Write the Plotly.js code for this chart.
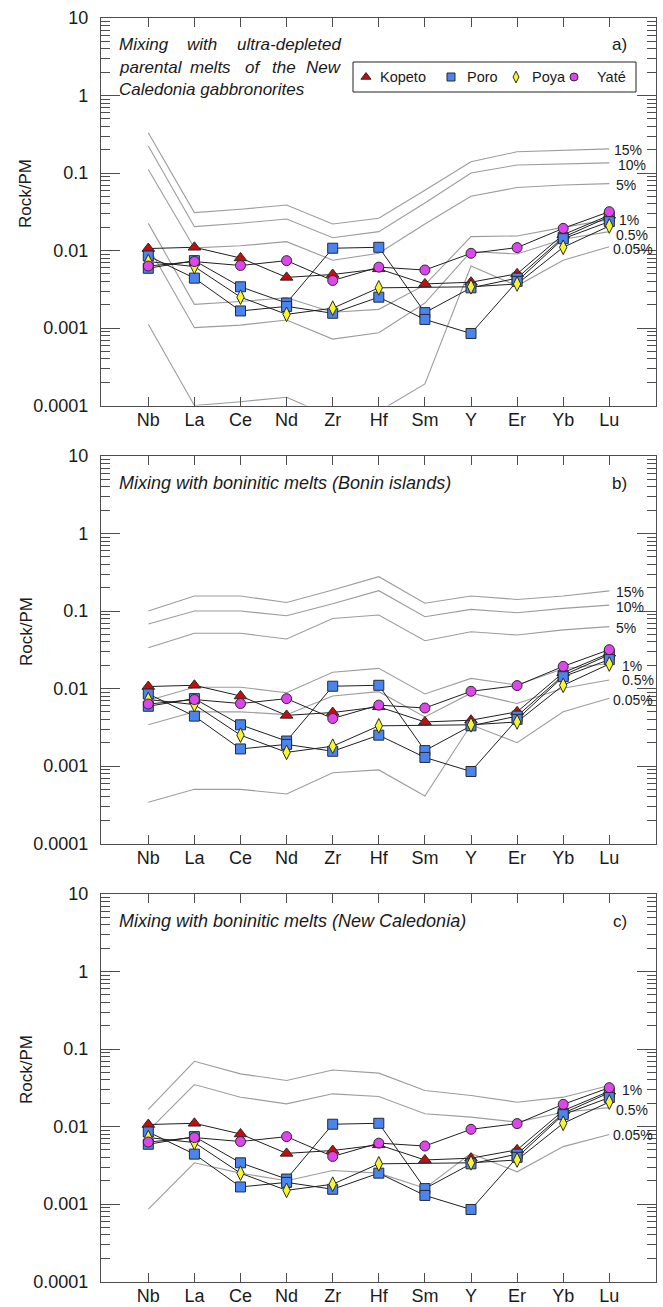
<!DOCTYPE html>
<html><head><meta charset="utf-8">
<script src="https://cdn.plot.ly/plotly-3.0.1.min.js"></script>
<style>html,body{margin:0;padding:0;background:#fff;}#chart{width:663px;height:1307px;}</style>
</head><body><div id="chart"></div>
<script>
// ---------- DATA ----------
const elements = ['Nb','La','Ce','Nd','Zr','Hf','Sm','Y','Er','Yb','Lu'];

// samples (Rock / Primitive Mantle)
const kopeto = [0.0106, 0.0110, 0.0080, 0.0045, 0.0049, 0.0058, 0.0037, 0.0039, 0.0050, 0.0160, 0.0285];
const poro1  = [0.0059, 0.0074, 0.0034, 0.0021, 0.0107, 0.0110, 0.00158, 0.0033, 0.0044, 0.0148, 0.0273];
const poro2  = [0.0085, 0.0044, 0.00166, 0.0019, 0.00155, 0.0025, 0.00129, 0.00085, 0.0040, 0.0142, 0.0236];
const poya   = [0.0072, 0.0062, 0.0025, 0.00150, 0.00180, 0.0033, null, 0.0034, 0.0037, 0.0110, 0.0207];
const yate   = [0.0063, 0.0072, 0.0064, 0.0074, 0.0041, 0.0061, 0.0056, 0.0092, 0.0109, 0.0193, 0.0317];

// a) mixing with ultra-depleted parental melts of the New Caledonia gabbronorites
const udLabels = ['15%','10%','5%','1%','0.5%','0.05%'];
const ud15  = [0.331, 0.0308, 0.0340, 0.0386, 0.0220, 0.0260, 0.060, 0.140, 0.188, 0.198, 0.205];
const ud10  = [0.223, 0.0203, 0.0225, 0.0255, 0.0146, 0.0175, 0.041, 0.100, 0.127, 0.130, 0.135];
const ud5   = [0.111, 0.0108, 0.0115, 0.0130, 0.0075, 0.0092, 0.0220, 0.050, 0.065, 0.070, 0.073];
const ud1   = [0.0224, 0.00202, 0.0022, 0.00246, 0.00160, 0.00174, 0.0036, 0.0151, 0.0154, 0.0199, 0.0250];
const ud05  = [0.0112, 0.00101, 0.00109, 0.00127, 0.00072, 0.00087, 0.0021, 0.0097, 0.0090, 0.0140, 0.0175];
const ud005 = [0.00112, 0.000100, 0.000112, 0.000128, 0.00007, 0.000084, 0.00019, 0.0063, 0.0035, 0.0075, 0.0112];
const udLabelY = [0.200, 0.127, 0.070, 0.0248, 0.0158, 0.0104];

// b) mixing with boninitic melts (Bonin islands)
const bonLabels = ['15%','10%','5%','1%','0.5%','0.05%'];
const bon15  = [0.100, 0.156, 0.156, 0.129, 0.187, 0.277, 0.126, 0.156, 0.141, 0.156, 0.182];
const bon10  = [0.068, 0.100, 0.100, 0.087, 0.124, 0.183, 0.0845, 0.105, 0.095, 0.108, 0.119];
const bon5   = [0.0336, 0.0516, 0.0516, 0.0436, 0.080, 0.0888, 0.0414, 0.054, 0.049, 0.057, 0.0628];
const bon1   = [0.0070, 0.0104, 0.0104, 0.0088, 0.0162, 0.0182, 0.0085, 0.0135, 0.0111, 0.0180, 0.0210];
const bon05  = [0.0034, 0.0050, 0.0050, 0.0046, 0.0080, 0.0091, 0.0043, 0.0087, 0.0064, 0.0101, 0.0129];
const bon005 = [0.00034, 0.00050, 0.00050, 0.000435, 0.00082, 0.00089, 0.00041, 0.0034, 0.0020, 0.0050, 0.0075];
const bonLabelY = [0.174, 0.1135, 0.0598, 0.0198, 0.0130, 0.00711];

// c) mixing with boninitic melts (New Caledonia)
const ncLabels = ['1%','0.5%','0.05%'];
const nc1   = [0.0166, 0.0695, 0.0478, 0.0392, 0.0537, 0.0488, 0.0292, 0.0251, 0.0206, 0.0239, 0.0339];
const nc05  = [0.0088, 0.0348, 0.0239, 0.0196, 0.0264, 0.0244, 0.0146, 0.0132, 0.0114, 0.0153, 0.0175];
const nc005 = [0.00086, 0.0034, 0.0025, 0.0020, 0.0027, 0.0025, 0.0016, 0.0045, 0.0026, 0.0055, 0.0079];
const ncLabelY = [0.0293, 0.0162, 0.0077];

const yTickVals = [0.0001, 0.001, 0.01, 0.1, 1, 10];
const yTickText = ['0.0001','0.001','0.01','0.1','1','10'];
const seriesNames = ['Kopeto','Poro','Poya','Yaté'];

// ---------- LAYOUT HELPERS ----------
const W = 663, H = 1307;
const FONT = 'Liberation Sans, Arial, Helvetica, sans-serif';
const PX = x => x / W;
const PY = y => 1 - y / H;
const plotLeft = 101, plotRight = 656;
const panelsPx = [ {top: 18, bottom: 405.5}, {top: 456, bottom: 843.5}, {top: 894, bottom: 1281.5} ];
const xRange = [-1.026, 11.013];
const xs = elements.map((_, i) => i);
const pxToIdx = p => 10 + (p - 609.3) / 46.1;
// left edge (px) of each percentage label per panel
const labelLeftPx = [[613, 617, 615, 618, 615, 612], [615, 615, 615, 621, 621, 612], [621, 615, 612]];

const minorVals = [];
for (let e = -4; e < 1; e++) for (let m = 2; m < 10; m++) minorVals.push(m * Math.pow(10, e));

const styles = {
  Kopeto: {symbol: 'triangle-up', size: 11, color: '#c40d0d'},
  Poro:   {symbol: 'square', size: 10, color: '#4a84f0'},
  Poya:   {symbol: 'diamond-tall', size: 10.5, color: '#f6f62c'},
  'Yaté': {symbol: 'circle', size: 10, color: '#dc46ec'}
};
const samples = [
  {name: 'Kopeto', vals: kopeto},
  {name: 'Poro', vals: poro1},
  {name: 'Poro', vals: poro2},
  {name: 'Poya', vals: poya},
  {name: 'Yaté', vals: yate}
];

const traces = [];
const annotations = [];
const shapes = [];
const layout = {
  width: W, height: H,
  margin: {l: 0, r: 0, t: 0, b: 0},
  paper_bgcolor: '#ffffff', plot_bgcolor: 'rgba(0,0,0,0)',
  showlegend: false,
  font: {family: FONT, color: '#1a1a1a'},
  annotations: annotations, shapes: shapes
};

function addPanel(k, curves, labels, labelY, titleText, letter) {
  const p = panelsPx[k - 1];
  const xa = k === 1 ? 'x' : 'x' + k;
  const ya = k === 1 ? 'y' : 'y' + k;
  const axisColor = '#4d4d4d';
  layout[k === 1 ? 'xaxis' : 'xaxis' + k] = {
    domain: [PX(plotLeft), PX(plotRight)], range: xRange, anchor: ya,
    tickmode: 'array', tickvals: xs, ticktext: elements,
    ticks: 'inside', ticklen: 9, tickwidth: 1, tickcolor: axisColor,
    showline: true, linecolor: axisColor, linewidth: 1.2, mirror: 'ticks',
    showgrid: false, zeroline: false, fixedrange: true,
    tickfont: {family: FONT, size: 18, color: '#1a1a1a'}, ticklabelstandoff: -2
  };
  layout[k === 1 ? 'yaxis' : 'yaxis' + k] = {
    type: 'log', range: [-4, 1], domain: [PY(p.bottom), PY(p.top)], anchor: xa,
    tickmode: 'array', tickvals: yTickVals, ticktext: yTickText,
    ticks: 'inside', ticklen: 19, tickwidth: 1, tickcolor: axisColor,
    minor: {tickmode: 'array', tickvals: minorVals, ticks: 'inside', ticklen: 9, tickwidth: 1, tickcolor: axisColor, showgrid: false},
    showline: true, linecolor: axisColor, linewidth: 1.2, mirror: 'ticks',
    showgrid: false, zeroline: false, fixedrange: true,
    tickfont: {family: FONT, size: 18, color: '#1a1a1a'}, ticklabelstandoff: 8
  };
  // model mixing curves
  curves.forEach((c, i) => {
    traces.push({x: xs, y: c, xaxis: xa, yaxis: ya, mode: 'lines', name: labels[i],
      line: {color: '#9c9c9c', width: 1.1}, hoverinfo: 'skip', showlegend: false});
    annotations.push({xref: xa, yref: ya, x: pxToIdx(labelLeftPx[k - 1][i]), y: Math.log10(labelY[i]), text: labels[i],
      showarrow: false, xanchor: 'left', yanchor: 'middle', borderpad: 0,
      font: {family: FONT, size: 14, color: '#1a1a1a'}});
  });
  // sample connecting lines
  samples.forEach(s => traces.push({x: xs, y: s.vals, xaxis: xa, yaxis: ya, mode: 'lines', connectgaps: true,
    line: {color: '#1f1f1f', width: 1}, hoverinfo: 'skip', showlegend: false}));
  // sample markers
  samples.forEach(s => {
    const st = styles[s.name];
    traces.push({x: xs, y: s.vals, xaxis: xa, yaxis: ya, mode: 'markers', name: s.name, showlegend: false,
      marker: {symbol: st.symbol, size: st.size, color: st.color, line: {color: '#2a2a2a', width: 1}}});
  });
  // y-axis title
  annotations.push({xref: 'paper', yref: 'paper', x: PX(26), y: PY(p.top + 176), text: 'Rock/PM', textangle: -90,
    showarrow: false, xanchor: 'center', yanchor: 'middle', font: {family: FONT, size: 17, color: '#1a1a1a'}});
  // panel letter
  annotations.push({xref: 'paper', yref: 'paper', x: PX(629), y: PY(p.top + 27), text: letter,
    showarrow: false, xanchor: 'right', yanchor: 'middle', font: {family: FONT, size: 17, color: '#1a1a1a'}});
  if (titleText) {
    annotations.push({xref: 'paper', yref: 'paper', x: PX(117), y: PY(p.top + 27), text: titleText,
      showarrow: false, xanchor: 'left', yanchor: 'middle', font: {family: FONT, size: 18, color: '#1a1a1a', style: 'italic'}});
  }
}

addPanel(1, [ud15, ud10, ud5, ud1, ud05, ud005], udLabels, udLabelY, null, 'a)');
addPanel(2, [bon15, bon10, bon5, bon1, bon05, bon005], bonLabels, bonLabelY, 'Mixing with boninitic melts (Bonin islands)', 'b)');
addPanel(3, [nc1, nc05, nc005], ncLabels, ncLabelY, 'Mixing with boninitic melts (New Caledonia)', 'c)');

// justified three-line title of panel a
const tfont = {family: FONT, size: 17, color: '#1a1a1a', style: 'italic'};
const titleWords = [
  {t: 'Mixing', x: 117, y: 44.6, a: 'left'}, {t: 'with', x: 202, y: 44.6, a: 'center'}, {t: 'ultra-depleted', x: 344, y: 44.6, a: 'right'},
  {t: 'parental', x: 117, y: 67, a: 'left'}, {t: 'melts', x: 210, y: 67, a: 'center'}, {t: 'of', x: 253, y: 67, a: 'center'},
  {t: 'the', x: 283.5, y: 67, a: 'center'}, {t: 'New', x: 344, y: 67, a: 'right'},
  {t: 'Caledonia gabbronorites', x: 117, y: 89, a: 'left'}
];
titleWords.forEach(w => annotations.push({xref: 'paper', yref: 'paper', x: PX(w.x), y: PY(w.y), text: w.t,
  showarrow: false, xanchor: w.a, yanchor: 'middle', font: tfont}));

// custom legend box (panel a)
const legendBox = {x0: 353, x1: 636, y0: 62, y1: 92, yc: 77};
const legendSym = [366, 451, 516, 574];
const legendTxt = [378, 465, 530, 595];
shapes.push({type: 'rect', xref: 'paper', yref: 'paper', x0: PX(legendBox.x0), x1: PX(legendBox.x1),
  y0: PY(legendBox.y1), y1: PY(legendBox.y0), line: {color: '#222', width: 1}, fillcolor: '#ffffff', layer: 'below'});
layout.xaxis4 = {domain: [0, 1], range: [0, W], visible: false, fixedrange: true, anchor: 'y4'};
layout.yaxis4 = {domain: [0, 1], range: [H, 0], visible: false, fixedrange: true, anchor: 'x4'};
seriesNames.forEach((n, i) => {
  const st = styles[n];
  traces.push({x: [legendSym[i]], y: [legendBox.yc], xaxis: 'x4', yaxis: 'y4', mode: 'markers', showlegend: false, hoverinfo: 'skip',
    marker: {symbol: st.symbol, size: st.size * 0.8, color: st.color, line: {color: '#2a2a2a', width: 1}}});
  annotations.push({xref: 'paper', yref: 'paper', x: PX(legendTxt[i]), y: PY(legendBox.yc), text: n,
    showarrow: false, xanchor: 'left', yanchor: 'middle', font: {family: FONT, size: 14.5, color: '#1a1a1a'}});
});

Plotly.newPlot('chart', traces, layout, {staticPlot: true, displayModeBar: false});
</script></body></html>
